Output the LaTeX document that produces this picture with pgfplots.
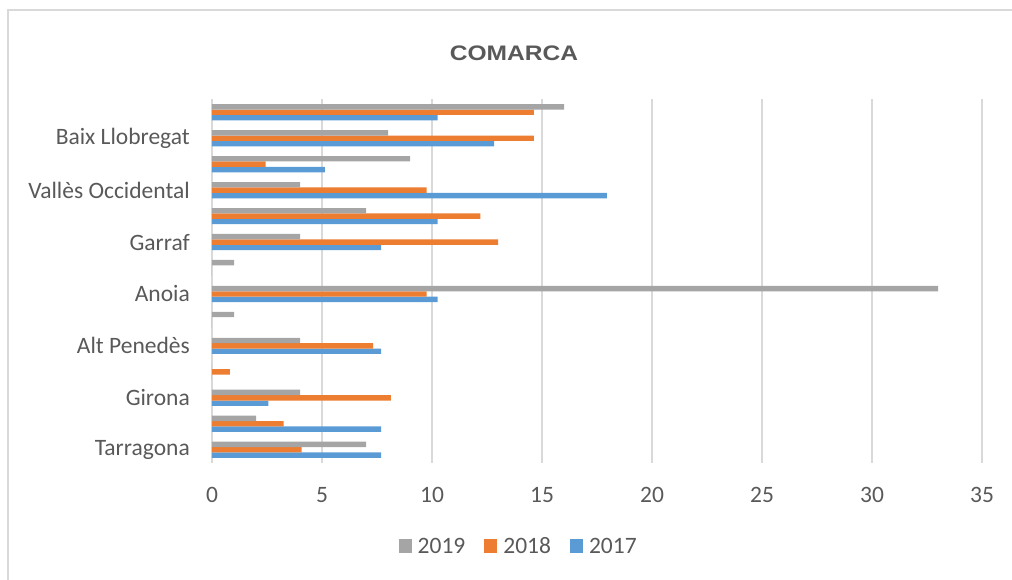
\documentclass[border=0pt]{standalone}
\usepackage{pgfplots}
\pgfplotsset{compat=1.18}
\usepackage{fontspec}
\setmainfont{Carlito}
\newfontfamily\titlefont{Liberation Sans}
\definecolor{c19}{HTML}{A5A5A5}
\definecolor{c18}{HTML}{ED7D31}
\definecolor{c17}{HTML}{5B9BD5}
\definecolor{txt}{HTML}{595959}
\definecolor{grd}{HTML}{D9D9D9}
\pgfplotsset{sqleg/.style={legend image code/.code={\fill[##1] (0pt,-7pt) rectangle (13pt,7pt);}}}
\begin{document}
\begin{tikzpicture}[x=1pt,y=1pt]
\useasboundingbox (0,0) rectangle (1012,579);
\draw[grd, line width=1.5pt] (8,-5) -- (8,569) -- (1020,569);
\node[text=txt, font=\titlefont\bfseries\fontsize{21}{24}\selectfont] at (514,525.5) {\scalebox{1.17}[1]{COMARCA}};
\begin{axis}[
  at={(212pt,116.3pt)}, anchor=south west,
  scale only axis, width=770pt, height=363.4pt,
  xbar=0pt, bar width=5.4pt,
  xmin=0, xmax=35, ymin=0.5, ymax=14.5,
  axis line style={draw=none},
  tick style={draw=none}, major tick length=0pt,
  xtick={0,5,...,35},
  ytick={1,3,...,13},
  yticklabels={Tarragona,Girona,Alt Penedès,Anoia,Garraf,Vallès Occidental,Baix Llobregat},
  xmajorgrids, major grid style={grd, line width=1.5pt},
  ticklabel style={text=txt, font=\fontsize{23.5}{28}\selectfont, inner sep=0pt},
  xticklabel style={yshift=-24.3pt},
  yticklabel style={xshift=-22pt},
  /pgf/number format/assume math mode=true,
  legend style={at={(0.397,-0.229)}, anchor=center, draw=none, fill=none,
    font=\fontsize{23.5}{28}\selectfont, text=txt,
    nodes={inner sep=0pt, text height=15pt, text depth=0pt},
    column sep=6pt, /tikz/every even column/.append style={column sep=19pt}},
  legend columns=3,
  reverse legend,
]
\addplot[sqleg, fill=c17, draw=none] coordinates {
 (7.69,1) (7.69,2) (2.56,3) (0,4) (7.69,5) (0,6) (10.26,7)
 (0,8) (7.69,9) (10.26,10) (17.95,11) (5.13,12) (12.82,13) (10.26,14)};
\addplot[sqleg, fill=c18, draw=none] coordinates {
 (4.07,1) (3.25,2) (8.13,3) (0.81,4) (7.32,5) (0,6) (9.76,7)
 (0,8) (13.01,9) (12.20,10) (9.76,11) (2.44,12) (14.63,13) (14.63,14)};
\addplot[sqleg, fill=c19, draw=none] coordinates {
 (7,1) (2,2) (4,3) (0,4) (4,5) (1,6) (33,7)
 (1,8) (4,9) (7,10) (4,11) (9,12) (8,13) (16,14)};
\legend{2017,2018,2019}
\end{axis}
\end{tikzpicture}
\end{document}
